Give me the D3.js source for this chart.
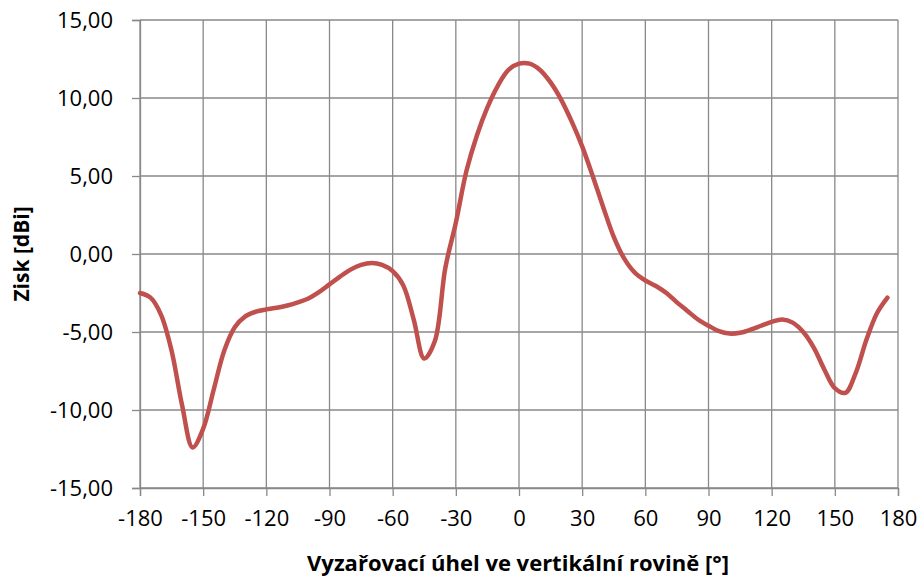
<!DOCTYPE html>
<html>
<head>
<meta charset="utf-8">
<script src="https://cdn.jsdelivr.net/npm/d3@7"></script>
<style>
  body { margin: 0; background: #fff; }
  text { font-family: "Open Sans", sans-serif; fill: #000; }
</style>
</head>
<body>
<div id="chart-area"></div>
<script>
// angles in degrees, gain in dBi
var angles = d3.range(-180, 180, 5);
var gains = [
  -2.5, -2.8, -3.9, -6.2, -9.7, -12.4, -11.2, -8.7, -6.2, -4.7,
  -4.0, -3.7, -3.55, -3.45, -3.3, -3.1, -2.85, -2.45, -1.95, -1.45,
  -1.0, -0.7, -0.58, -0.7, -1.1, -2.0, -4.2, -6.7, -5.6, -0.9,
  2.0, 5.3, 7.6, 9.4, 10.8, 11.8, 12.2, 12.2, 11.8, 11.0,
  9.9, 8.5, 6.9, 5.0, 3.0, 1.1, -0.3, -1.2, -1.7, -2.05,
  -2.5, -3.1, -3.65, -4.2, -4.6, -4.95, -5.1, -5.05, -4.85, -4.6,
  -4.35, -4.2, -4.4, -5.0, -6.0, -7.4, -8.6, -8.9, -7.6, -5.5,
  -3.8, -2.8
];
var xTicks = [-180, -150, -120, -90, -60, -30, 0, 30, 60, 90, 120, 150, 180];
var yTicks = [-15, -10, -5, 0, 5, 10, 15];

var data = angles.map(function(a, i) { return {angle: a, gain: gains[i]}; });

var margin = {top: 20, right: 25, bottom: 90, left: 140};
var W = 923, H = 578;
var width = W - margin.left - margin.right;
var height = H - margin.top - margin.bottom;

var svg = d3.select("#chart-area").append("svg").attr("width", W).attr("height", H);
var g = svg.append("g").attr("transform", "translate(" + margin.left + ", " + margin.top + ")");

var x = d3.scaleLinear().domain([-180, 180]).range([0, width]);
var y = d3.scaleLinear().domain([-15, 15]).range([height, 0]);

var gridColor = "#898989";

// grid
g.selectAll(".vgrid").data(xTicks).enter().append("line")
  .attr("x1", function(d) { return x(d); }).attr("x2", function(d) { return x(d); })
  .attr("y1", 0).attr("y2", height)
  .attr("stroke", gridColor).attr("stroke-width", 1.3);
g.selectAll(".hgrid").data(yTicks).enter().append("line")
  .attr("x1", 0).attr("x2", width)
  .attr("y1", function(d) { return y(d); }).attr("y2", function(d) { return y(d); })
  .attr("stroke", gridColor).attr("stroke-width", 1.3);

// plain hyphen for negatives, comma as decimal mark
var fmtX = function(d) { return String(d); };
var fmtY = function(d) { return d.toFixed(2).replace(".", ","); };

var bottomAxis = d3.axisBottom(x).tickValues(xTicks).tickSize(8).tickPadding(14).tickFormat(fmtX);
var xAxisG = g.append("g").attr("class", "x axis").attr("transform", "translate(0, " + height + ")").call(bottomAxis);
xAxisG.selectAll("text").style("font-size", "22px").attr("fill", "#000");

var leftAxis = d3.axisLeft(y).tickValues(yTicks).tickSize(8).tickPadding(19).tickFormat(fmtY);
var yAxisG = g.append("g").attr("class", "y axis").call(leftAxis);
yAxisG.selectAll("text").style("font-size", "22px").attr("fill", "#000");

svg.selectAll(".axis path, .axis line").attr("stroke", gridColor).attr("stroke-width", 1.3);

// curve
var line = d3.line()
  .x(function(d) { return x(d.angle); })
  .y(function(d) { return y(d.gain); })
  .curve(d3.curveCatmullRom.alpha(0.5));

g.append("path").datum(data)
  .attr("d", line)
  .attr("fill", "none")
  .attr("stroke", "#C0504D")
  .attr("stroke-width", 4.5)
  .attr("stroke-linecap", "round")
  .attr("stroke-linejoin", "round");

// axis labels
g.append("text").attr("x", 378).attr("y", height + 83)
  .attr("text-anchor", "middle").style("font-size", "22px").style("font-weight", "bold")
  .text("Vyzařovací úhel ve vertikální rovině [°]");

g.append("text").attr("transform", "rotate(-90)")
  .attr("x", -(y(0))).attr("y", -111)
  .attr("text-anchor", "middle").style("font-size", "21px").style("font-weight", "bold")
  .text("Zisk [dBi]");
</script>
</body>
</html>
